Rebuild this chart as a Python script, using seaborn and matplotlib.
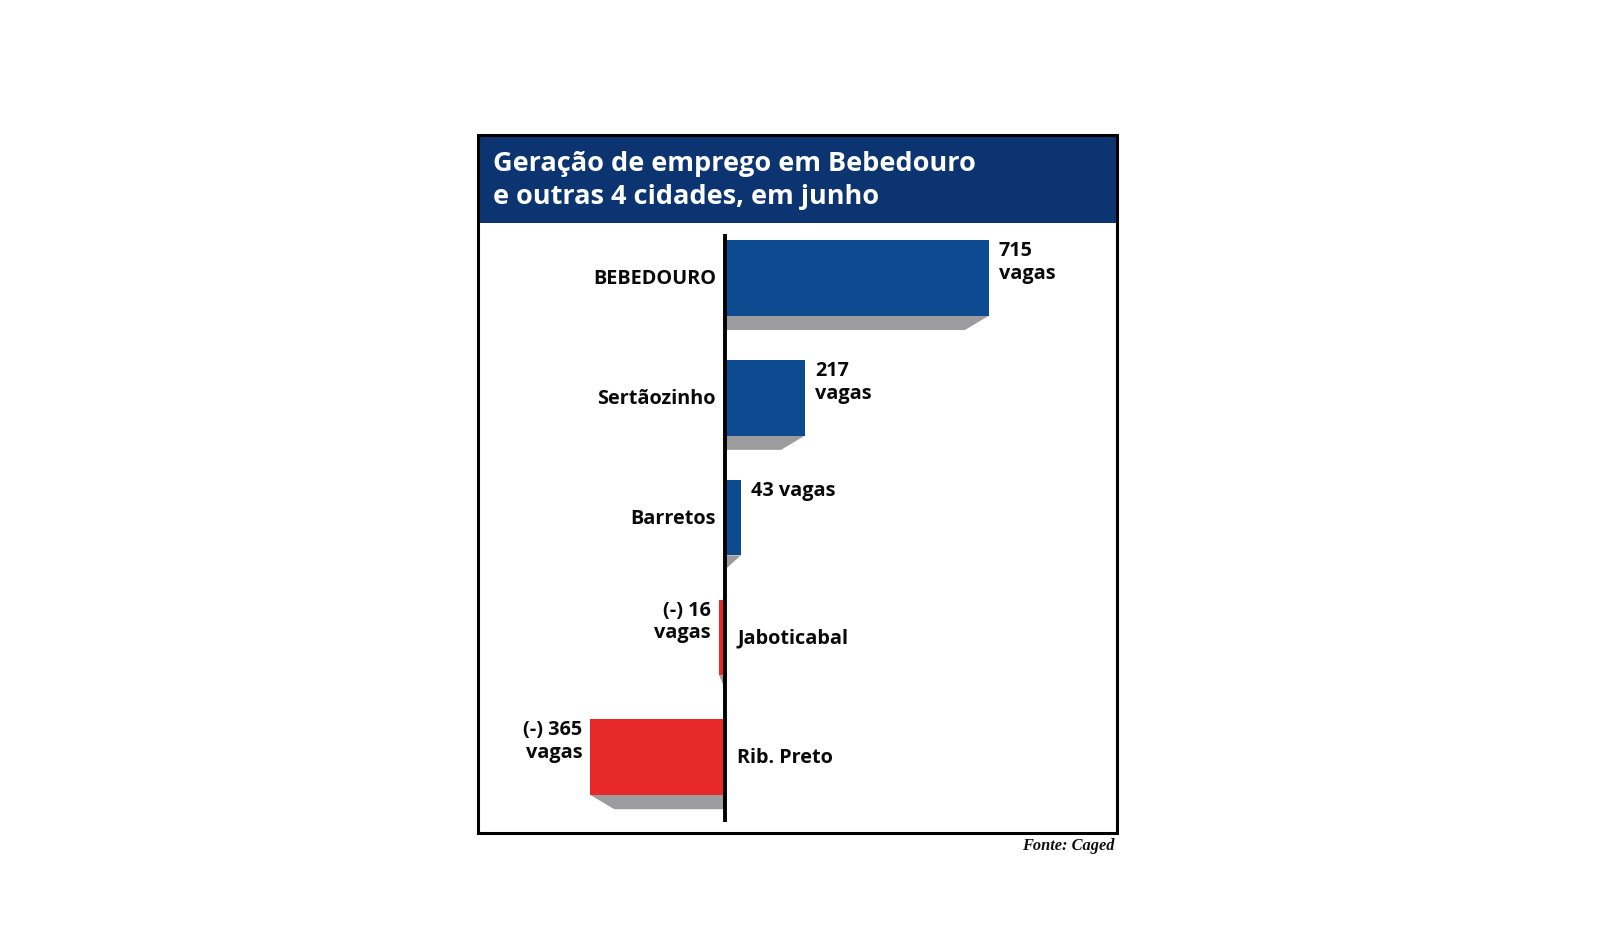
import matplotlib
matplotlib.use("Agg")
import matplotlib.pyplot as plt
import seaborn as sns
import pandas as pd
from matplotlib.patches import Rectangle, Polygon

# ---- data ----
cities = ["BEBEDOURO", "Sertãozinho", "Barretos", "Jaboticabal", "Rib. Preto"]
values = [715, 217, 43, -16, -365]
value_labels = ["715\nvagas", "217\nvagas", "43 vagas", "(-) 16\nvagas", "(-) 365\nvagas"]
title_lines = ["Geração de emprego em Bebedouro", "e outras 4 cidades, em junho"]
source = "Fonte: Caged"

BLUE = "#0d4a8f"
RED = "#e8292a"
NAVY = "#0b3470"
GREY = "#9c9c9e"
colors = [BLUE if v >= 0 else RED for v in values]

df = pd.DataFrame({"city": cities, "value": values})

W, H = 1600, 935
sns.set_theme(style="white")
plt.rcParams['font.family'] = ['Open Sans', 'DejaVu Sans']
fig = plt.figure(figsize=(16, 9.35), dpi=100)
fig.patch.set_facecolor("white")


def fx(px):
    return px / W


def fy(py):
    return 1 - py / H


BOX_L, BOX_T, BOX_R, BOX_B = 478, 135, 1117, 833
TITLE_B = 223

fig.patches.append(Rectangle((fx(BOX_L), fy(TITLE_B)), fx(BOX_R) - fx(BOX_L), fy(BOX_T) - fy(TITLE_B),
                             transform=fig.transFigure, facecolor=NAVY, edgecolor='none', zorder=0))
fig.patches.append(Rectangle((fx(BOX_L), fy(BOX_B)), fx(BOX_R) - fx(BOX_L), fy(BOX_T) - fy(BOX_B),
                             transform=fig.transFigure, facecolor='none', edgecolor='black', lw=2.2, zorder=5))

AX_L, AX_R, AX_T, AX_B = 480, 1115, 223, 831
ax = fig.add_axes([fx(AX_L), fy(AX_B), fx(AX_R) - fx(AX_L), fy(AX_T) - fy(AX_B)])
ax.patch.set_alpha(0)

BAR_H = 0.63
sns.barplot(data=df, x="value", y="city", hue="city", palette=colors, orient="h",
            width=BAR_H, legend=False, ax=ax, saturation=1, zorder=3, linewidth=0)

px_per_unit = 0.369
axis_px = 725
ax.set_xlim((AX_L - axis_px) / px_per_unit, (AX_R - axis_px) / px_per_unit)
row0, row_sp = 278, 119.8
ax.set_ylim((AX_B - row0) / row_sp, -(row0 - AX_T) / row_sp)
for s in ax.spines.values():
    s.set_visible(False)
ax.set_xticks([])
ax.set_yticks([])
ax.set_xlabel("")
ax.set_ylabel("")

# shadows under bars
depth = 14.3 / row_sp
dx = 24 / px_per_unit
for p in ax.patches:
    x0 = p.get_x()
    w = p.get_width()
    end = x0 + w
    b = p.get_y() + p.get_height()
    if end >= 0:
        e2 = max(0, end - dx)
    else:
        e2 = min(0, end + dx)
    poly = Polygon([(0, b), (end, b), (e2, b + depth), (0, b + depth)], closed=True,
                   facecolor=GREY, edgecolor='none', zorder=2)
    ax.add_patch(poly)

# axis line
ax.plot([0, 0], [(234 - row0) / row_sp, (822 - row0) / row_sp], color='black', lw=2.8,
        solid_capstyle='butt', zorder=6)

FS = 14.3
TXT = '#0a0a0a'
for i, (c, v, lab) in enumerate(zip(cities, values, value_labels)):
    top = i - BAR_H / 2
    if v >= 0:
        ax.annotate(c, (0, i), xytext=(-9, -1), textcoords='offset pixels', ha='right', va='center',
                    fontsize=FS, fontweight='bold', color=TXT)
        ax.annotate(lab, (v, top), xytext=(10, -1), textcoords='offset pixels', ha='left', va='top',
                    fontsize=FS, fontweight='bold', color=TXT, linespacing=1.17)
    else:
        ax.annotate(c, (0, i), xytext=(12, -1), textcoords='offset pixels', ha='left', va='center',
                    fontsize=FS, fontweight='bold', color=TXT)
        ax.annotate(lab, (v, top), xytext=(-8, -1), textcoords='offset pixels', ha='right', va='top',
                    fontsize=FS, fontweight='bold', color=TXT, linespacing=1.17,
                    multialignment='right')

fig.text(fx(493), fy(164), title_lines[0], color='white', fontsize=19.5, fontweight='bold', va='center', ha='left')
fig.text(fx(493), fy(197), title_lines[1], color='white', fontsize=19.5, fontweight='bold', va='center', ha='left')

fig.text(fx(1115), fy(846), source, ha='right', va='center', fontsize=11.8,
         family=['Liberation Serif', 'DejaVu Serif'], style='italic', fontweight='bold', color='#111111')

fig.savefig("out.png", dpi=100)
